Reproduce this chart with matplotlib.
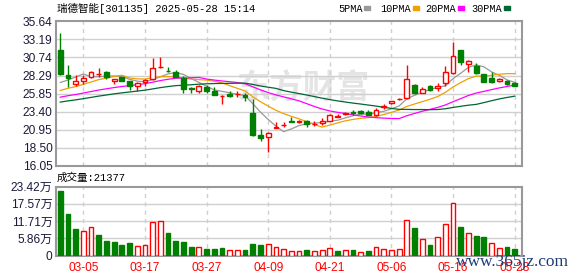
import numpy as np
import pandas as pd
import matplotlib
matplotlib.use('Agg')
import matplotlib.pyplot as plt

# Daily candles 2025-02-28 .. 2025-05-28 (60 sessions)
opens = [31.76, 28.40, 27.17, 27.57, 28.12, 28.45, 28.79, 27.53, 28.07, 27.57,
         26.94, 27.40, 27.80, 29.40, 28.96, 28.75, 27.94, 26.55, 26.22, 26.80,
         26.22, 25.47, 25.82, 25.75, 25.68, 23.29, 20.28, 19.91, 21.18, 21.60,
         22.10, 22.05, 22.08, 21.70, 21.81, 22.17, 22.72, 23.07, 23.30, 23.52,
         23.33, 22.89, 23.97, 24.56, 25.10, 25.32, 27.03, 25.99, 26.90, 26.59,
         27.26, 28.61, 31.76, 29.91, 29.64, 28.48, 28.02, 27.62, 27.57, 27.30]
highs = [34.02, 29.73, 28.38, 28.38, 28.93, 29.37, 28.93, 27.85, 28.10, 27.60,
         27.48, 27.80, 30.72, 30.82, 29.43, 29.06, 28.25, 26.80, 27.03, 27.00,
         26.72, 25.68, 26.20, 26.20, 25.90, 25.10, 21.00, 20.72, 21.99, 21.99,
         22.75, 22.30, 22.27, 22.20, 22.54, 23.07, 23.07, 23.40, 23.66, 23.60,
         23.66, 23.88, 24.40, 24.90, 25.20, 29.73, 27.10, 26.80, 27.00, 27.30,
         29.60, 32.88, 31.80, 30.40, 29.96, 28.50, 28.75, 28.00, 27.70, 27.48]
lows = [28.37, 26.80, 26.94, 27.13, 28.02, 28.16, 27.78, 27.17, 27.55, 26.40,
        26.22, 26.94, 27.70, 29.38, 28.75, 28.08, 26.00, 26.00, 26.00, 26.00,
        25.60, 24.47, 25.45, 25.40, 24.87, 20.15, 19.37, 17.94, 21.15, 21.27,
        22.05, 21.90, 21.36, 21.40, 21.63, 22.10, 22.70, 22.90, 23.00, 23.10,
        22.90, 22.85, 23.80, 24.50, 25.05, 25.14, 25.76, 25.95, 26.20, 26.22,
        26.94, 28.50, 29.73, 28.75, 28.55, 27.44, 27.35, 27.48, 27.03, 26.85]
closes = [28.50, 27.90, 27.57, 28.02, 28.75, 28.50, 28.12, 27.80, 27.62, 26.90,
          27.26, 27.70, 29.29, 29.45, 28.90, 28.12, 26.49, 26.45, 26.90, 26.25,
          25.68, 25.50, 25.51, 25.80, 25.41, 20.18, 19.85, 20.50, 21.30, 21.65,
          22.05, 22.10, 21.72, 21.75, 22.08, 22.89, 22.78, 23.29, 23.20, 23.21,
          22.98, 23.66, 24.24, 24.87, 25.15, 27.84, 25.99, 26.49, 26.36, 26.90,
          28.75, 30.91, 30.18, 30.24, 28.61, 27.46, 27.48, 27.84, 27.17, 26.94]
# volume in 万 (10k lots)
volumes = [21.96, 14.13, 9.02, 8.34, 9.60, 6.98, 4.94, 4.60, 3.57, 4.26,
           3.23, 3.57, 11.30, 11.64, 7.66, 4.94, 4.60, 3.00, 2.89, 2.21,
           2.21, 2.55, 1.77, 1.77, 1.87, 3.91, 3.57, 3.80, 2.89, 2.10,
           1.43, 1.43, 1.87, 1.43, 1.77, 2.45, 1.53, 1.87, 1.87, 1.09,
           1.53, 2.79, 2.10, 1.87, 2.21, 11.98, 9.46, 5.62, 3.57, 6.30,
           10.72, 17.77, 9.80, 7.66, 6.74, 6.40, 4.26, 2.55, 2.89, 2.14]
# closes before the visible window (needed for the moving averages)
prior_closes = [23.0, 23.4, 23.1, 23.6, 23.3, 23.5, 23.2, 23.6, 23.4, 23.5,
                24.0, 24.3, 24.1, 24.6, 24.4, 24.8, 24.5, 24.7, 24.6, 24.7,
                24.9, 25.3, 25.0, 25.5, 25.25, 26.2, 25.5, 26.0, 30.55]

date_ticks = [3, 11, 19, 27, 35, 43, 51, 59]
date_labels = ['03-05', '03-17', '03-27', '04-09', '04-21', '05-06', '05-16', '05-28']
price_ticks = [16.05, 18.50, 20.95, 23.40, 25.85, 28.29, 30.74, 33.19, 35.64]
vol_ticks = [0, 5.86, 11.71, 17.57, 23.42]
ma_windows = [5, 10, 20, 30]
ma_names = ['5PMA', '10PMA', '20PMA', '30PMA']
ma_colors = ['#999999', '#f0a000', '#ff00ff', '#006633']
last_volume = 21377

RED = '#ff0000'
GREEN = '#008000'
GRID = '#d0d0d0'
FRAME = '#999999'
TICKC = '#1a1a3a'

fig = plt.figure(figsize=(5.78, 2.76), dpi=100)
W, H = 578.0, 276.0
ax1 = fig.add_axes([56 / W, 1 - 166 / H, 466 / W, 144.7 / H])
ax2 = fig.add_axes([56 / W, 1 - 255.5 / H, 466 / W, 68.8 / H])

n = len(closes)
idx = np.arange(n)
xlim = (-0.55, 59.95)

# moving averages
all_close = pd.Series(prior_closes + closes)
for w, c in zip(ma_windows, ma_colors):
    ma = all_close.rolling(w).mean().values[-n:]
    ax1.plot(idx, ma, color=c, lw=0.9, zorder=3)

# candles
for i in idx:
    o, h, l, c = opens[i], highs[i], lows[i], closes[i]
    up = c >= o
    col = RED if up else GREEN
    ax1.vlines(i, l, h, color=col, lw=1, zorder=4)
    body = max(abs(c - o), 0.03)
    ax1.bar(i, body, bottom=min(o, c), width=0.62,
            facecolor='white' if up else GREEN, edgecolor=col, lw=1, zorder=5)

# volume, coloured vs previous close
prev = [prior_closes[-1]] + closes[:-1]
for i in idx:
    up = closes[i] >= prev[i]
    col = RED if up else GREEN
    ax2.bar(i, volumes[i], width=0.62, facecolor='white' if up else GREEN,
            edgecolor=col, lw=1, zorder=3)

for ax in (ax1, ax2):
    ax.set_xlim(*xlim)
    ax.set_xticks(date_ticks)
    for t in date_ticks:
        ax.axvline(t, color=GRID, lw=1, ls=(0, (3, 3)), zorder=1)
    for s in ax.spines.values():
        s.set_color(FRAME)
        s.set_linewidth(1.5)
    ax.tick_params(length=0, pad=2.5)

ax1.set_ylim(price_ticks[0], price_ticks[-1])
ax1.set_yticks(price_ticks)
ax1.set_yticklabels(['%.2f' % v for v in price_ticks], color=TICKC,
                    fontsize=8.6, family='Liberation Sans')
for v in price_ticks[1:-1]:
    ax1.axhline(v, color=GRID, lw=1, zorder=1)
ax1.set_xticklabels([])

ax2.set_ylim(0, vol_ticks[-1])
ax2.set_yticks(vol_ticks)
ax2.set_yticklabels(['0'] + ['%.2f万' % v for v in vol_ticks[1:]], color=TICKC,
                    fontsize=8.6, family=['Liberation Sans', 'Noto Sans CJK SC'])
for v in vol_ticks[1:-1]:
    ax2.axhline(v, color=GRID, lw=1, zorder=1)
ax2.set_xticklabels(date_labels, color=RED, fontsize=8.6, family='Liberation Sans')
ax2.tick_params(axis='x', pad=5)

# watermark
ax1.text(0.53, 0.53, '东方财富', transform=ax1.transAxes, fontsize=24,
         color='#e4e4e4', ha='center', va='center', family='Noto Sans CJK SC',
         fontweight='bold', zorder=0.5)

# header texts
fam = ['Liberation Mono', 'Noto Sans CJK SC']
fig.text(57 / W, 1 - 8.5 / H, '瑞德智能[301135] 2025-05-28 15:14', fontsize=7.6,
         family=fam, va='center', ha='left')
fig.text(57 / W, 1 - 178 / H, '成交量:%d' % last_volume, fontsize=7.6,
         family=fam, va='center', ha='left')

legend_x = [338, 380, 425.5, 471.5]
for name, c, x0 in zip(ma_names, ma_colors, legend_x):
    t = fig.text(x0 / W, 1 - 8.5 / H, name, fontsize=7.4, family='Liberation Mono',
                 va='center', ha='left')
    fig.canvas.draw()
    bb = t.get_window_extent()
    fig.patches.append(plt.Rectangle(((bb.x1 + 2) / W, (H - 10) / H), 6 / W, 3.5 / H,
                                     transform=fig.transFigure, color=c))

fig.text(512 / W, 1 - 262 / H, 'www.365jz.com', fontsize=12.5, family='Liberation Serif',
         color='#1e3c78', ha='center', va='center', zorder=10)

fig.savefig('out.png', dpi=100)
